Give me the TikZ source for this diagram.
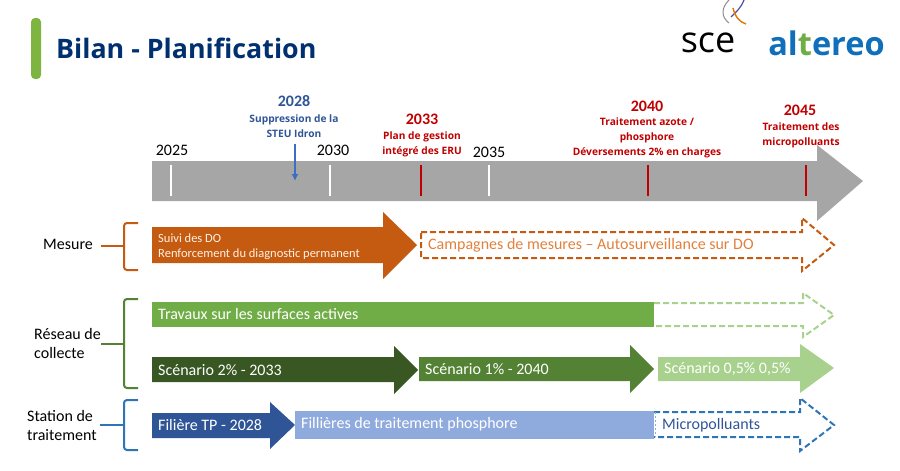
\documentclass[tikz,border=0pt]{standalone}
\usepackage{fontspec}
\setmainfont{Carlito}
\newfontfamily\titlefont{Open Sans}
\usepackage{tikz}
\usetikzlibrary{arrows.meta}

\definecolor{titleblue}{HTML}{003070}
\definecolor{barred}{HTML}{C00000}
\definecolor{axisgrey}{HTML}{A6A6A6}
\definecolor{mesureorange}{HTML}{C55A11}
\definecolor{lightorange}{HTML}{E2803C}
\definecolor{greenA}{HTML}{70AD47}
\definecolor{greenB}{HTML}{A9D18E}
\definecolor{greenC}{HTML}{385723}
\definecolor{greenD}{HTML}{548235}
\definecolor{blueA}{HTML}{2F5597}
\definecolor{blueB}{HTML}{8FAADC}
\definecolor{blueC}{HTML}{2E75B6}
\definecolor{blueD}{HTML}{3A6FC4}
\definecolor{logoblue}{HTML}{0F6FBA}

\tikzset{
    lbl/.style={inner sep=0pt, font=\fontsize{16}{19}\selectfont, align=left},
    year/.style={inner sep=0pt, font=\fontsize{16}{16}\selectfont},
    yearbold/.style={inner sep=0pt, font=\bfseries\fontsize{16}{16}\selectfont},
    milestone/.style={inner sep=0pt, align=center, font=\titlefont\bfseries\fontsize{10.2}{15}\selectfont},
    bartext/.style={inner sep=0pt, anchor=west, text=white, font=\fontsize{16}{18}\selectfont},
    grp/.style={line width=2pt, rounded corners=3pt},
    tickline/.style={line width=2.2pt},
    dashline/.style={line width=2pt, dash pattern=on 6pt off 3pt}
}

\begin{document}
\begin{tikzpicture}[x=1pt, y=-1pt]
                \useasboundingbox (0,0) rectangle (900,471);
%
                \fill [greenA!90!yellow, rounded corners=4pt] (31,18) rectangle (41,79);
                \node (title) [inner sep=0pt, anchor=west, text=titleblue, font=\titlefont\bfseries\fontsize{26.8}{28}\selectfont] at (56,48) {Bilan - Planification};
%
                % logos
                \node (sce) [inner sep=0pt, font=\titlefont\fontsize{36}{36}\selectfont] at (708,43) {sce};
                \draw [line width=1pt, black!45] (729,0) .. controls (721,8) and (721,17) .. (729,23);
                \draw [line width=1.2pt, blue!50!black!70] (744,0) .. controls (741,8) and (736,12) .. (731,17);
                \draw [line width=1.4pt, orange!90!black] (733,8) .. controls (735,16) and (739,22) .. (746,24);
                \node (altereo) [inner sep=0pt, text=logoblue, font=\titlefont\bfseries\fontsize{32.5}{36}\selectfont] at (826.5,43) {al\textcolor{greenA}{t}ereo};
%
                % time axis
                \fill [axisgrey] (152,161) -- (817,161) -- (817,145) -- (863,181) -- (817,221) -- (817,201) -- (152,201) -- cycle;
                \draw [tickline, white] (171,165) -- (171,196);
                \draw [tickline, white] (330,165) -- (330,196);
                \draw [tickline, barred] (421,165) -- (421,196);
                \draw [tickline, white] (489,165) -- (489,196);
                \draw [tickline, barred] (648,165) -- (648,196);
                \draw [tickline, barred] (806,165) -- (806,196);
%
                \node (y2025) [year] at (172,150) {2025};
                \node (y2030) [year] at (333,150) {2030};
                \node (y2035) [year] at (489,152) {2035};
                \node (y2028) [yearbold, text=blueA] at (294,101) {2028};
                \node (t2028) [milestone, text=blueA] at (294,126) {Suppression de la\\STEU Idron};
                \node (y2033) [yearbold, text=barred] at (422,119) {2033};
                \node (t2033) [milestone, text=barred] at (422,144) {Plan de gestion\\intégré des ERU};
                \node (y2040) [yearbold, text=barred] at (647,106) {2040};
                \node (t2040) [milestone, text=barred] at (647,138) {Traitement azote /\\phosphore\\Déversements 2\% en charges};
                \node (y2045) [yearbold, text=barred] at (800,110) {2045};
                \node (t2045) [milestone, text=barred] at (801,135) {Traitement des\\micropolluants};
                \coordinate (tip2028) at (295,181);
                \draw [blueD, line width=1.8pt, -{Latex[length=7pt,width=7pt]}] (t2028.south -| tip2028) ++(0,6) -- (tip2028);
%
                % mesure
                \node (mesure) [lbl, anchor=west] at (43,244) {Mesure};
                \draw [grp, mesureorange] (138,223) -- (124,223) -- (124,270) -- (138,270);
                \coordinate (mb) at (124,246);
                \draw [grp, mesureorange] (mesure.east) ++(8,2) -- (mb);
                \fill [mesureorange] (152,227) -- (383,227) -- (383,212) -- (417,245) -- (383,279) -- (383,263) -- (152,263) -- cycle;
                \node (suivi) [bartext, align=left, text=white!90!orange, font=\fontsize{12.5}{15}\selectfont] at (158,246.5) {Suivi des DO\\Renforcement du diagnostic permanent};
                \draw [dashline, mesureorange] (421,232) -- (802,232) -- (802,218) -- (834,245) -- (802,271) -- (802,258) -- (421,258) -- cycle;
                \node (campagnes) [bartext, text=lightorange] at (428,245) {Campagnes de mesures – Autosurveillance sur DO};
%
                % reseau de collecte
                \node (reseau) [lbl, anchor=west] at (34,344) {Réseau de\\collecte};
                \draw [grp, greenD] (138,299) -- (124,299) -- (124,388) -- (138,388);
                \coordinate (rb) at (124,344);
                \draw [grp, greenD] (reseau.east) -- (rb);
                \fill [greenA] (152,302) rectangle (654,327);
                \node (travaux) [bartext] at (158,314) {Travaux sur les surfaces actives};
                \draw [dashline, greenB] (654,303) -- (803,303) -- (803,293) -- (834,315) -- (803,337) -- (803,326) -- (654,326);
                \fill [greenC] (152,357) -- (394,357) -- (394,346) -- (418,370) -- (394,394) -- (394,382) -- (152,382) -- cycle;
                \node (sc2) [bartext] at (158,370) {Scénario 2\% - 2033};
                \fill [greenD] (419,357) -- (630,357) -- (630,345) -- (654,369) -- (630,393) -- (630,381) -- (419,381) -- cycle;
                \node (sc1) [bartext] at (425,369) {Scénario 1\% - 2040};
                \fill [greenB] (658,357) -- (800,357) -- (800,344) -- (834,368) -- (800,393) -- (800,381) -- (658,381) -- cycle;
                \node (sc05) [bartext] at (664,369) {Scénario 0,5\% 0,5\%};
%
                % station de traitement
                \node (station) [lbl, anchor=west] at (27,425) {Station de\\traitement};
                \draw [grp, blueC] (138,400) -- (124,400) -- (124,450) -- (138,450);
                \coordinate (sb) at (124,425);
                \draw [grp, blueC] (station.east) ++(3,0) -- (sb);
                \fill [blueA] (152,413) -- (270,413) -- (270,402) -- (295,425) -- (270,449) -- (270,438) -- (152,438) -- cycle;
                \node (filiere) [bartext] at (158,425) {Filière TP - 2028};
                \fill [blueB] (295,411) rectangle (654,439);
                \node (filieres) [bartext] at (301,424) {Fillières de traitement phosphore};
                \draw [dashline, blueC] (654,412) -- (800,412) -- (800,398) -- (834,425) -- (800,451) -- (800,437) -- (654,437);
                \draw [blueB, line width=0.8pt, dash pattern=on 2pt off 2pt] (655.5,412) -- (655.5,437);
                \node (micro) [bartext, text=blueA] at (662,425) {Micropolluants};
            \end{tikzpicture}
\end{document}
